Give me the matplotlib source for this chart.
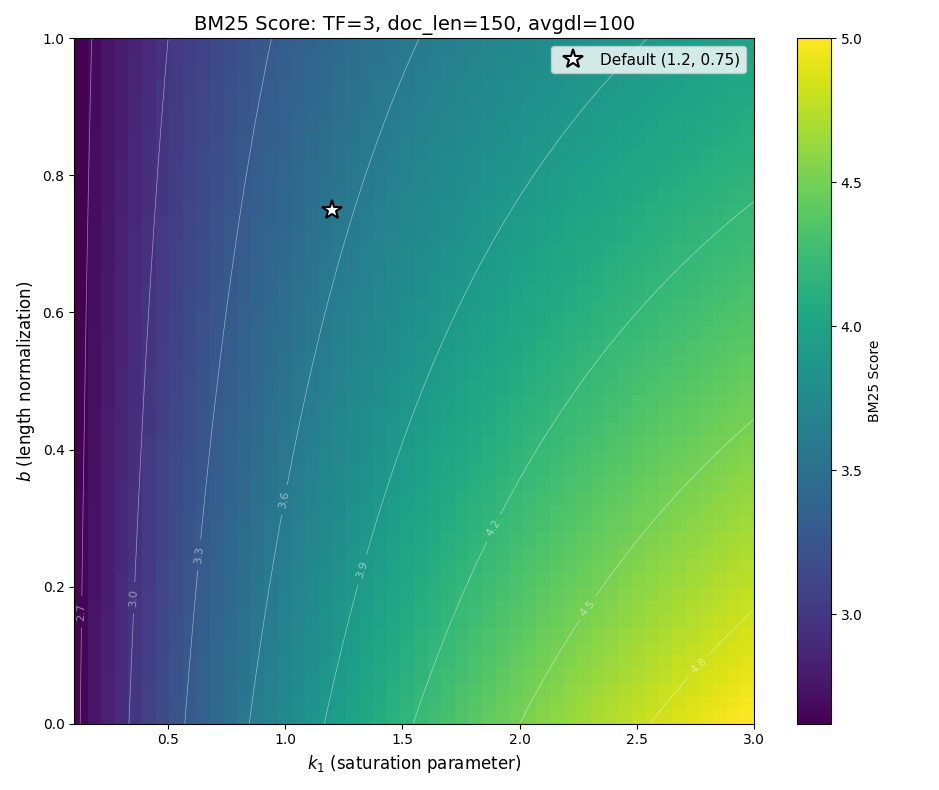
import numpy as np
import matplotlib
matplotlib.use("Agg")
import matplotlib.pyplot as plt

tf = 3
doc_len = 150
avgdl = 100
idf = 2.5
k1_values = np.linspace(0.1, 3.0, 50)
b_values = np.linspace(0.0, 1.0, 50)
contour_levels = [2.7, 3.0, 3.3, 3.6, 3.9, 4.2, 4.5, 4.8]
default_k1, default_b = 1.2, 0.75

K, B = np.meshgrid(k1_values, b_values)
S = idf * tf * (K + 1) / (tf + K * (1 - B + B * doc_len / avgdl))

fig, ax = plt.subplots(figsize=(9.39, 7.9), dpi=100)
im = ax.imshow(S, cmap="viridis", origin="lower", aspect="auto",
               extent=[k1_values[0], k1_values[-1], b_values[0], b_values[-1]])
cs = ax.contour(K, B, S, levels=contour_levels, colors="white", linewidths=0.5, alpha=0.5)
ax.clabel(cs, inline=True, fontsize=8, fmt="%.1f")
ax.plot(default_k1, default_b, marker="*", color="white", markeredgecolor="black",
        markersize=15, markeredgewidth=1.5, linestyle="none", label="Default (1.2, 0.75)")
ax.legend(loc="upper right", fontsize=11)
ax.set_xlim(k1_values[0], k1_values[-1])
ax.set_ylim(b_values[0], b_values[-1])
ax.set_xlabel("$k_1$ (saturation parameter)", fontsize=12)
ax.set_ylabel("$b$ (length normalization)", fontsize=12)
ax.set_title("BM25 Score: TF=3, doc_len=150, avgdl=100", fontsize=14)
cb = fig.colorbar(im, ax=ax)
cb.set_label("BM25 Score")
fig.tight_layout()
fig.savefig("out.png", dpi=100)
